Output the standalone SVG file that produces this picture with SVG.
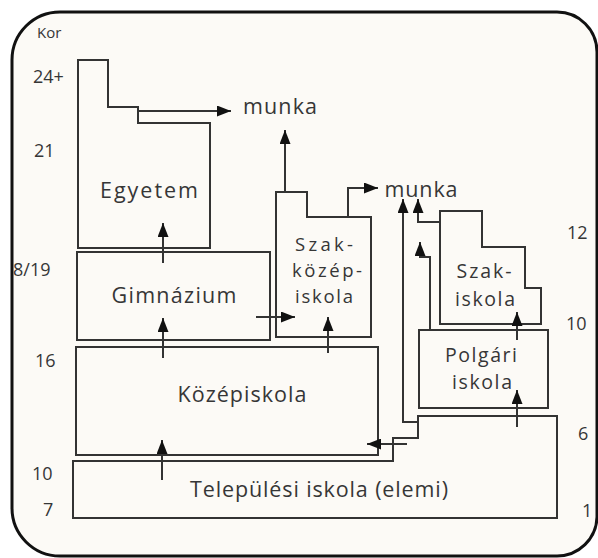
<svg xmlns="http://www.w3.org/2000/svg" width="598" height="558" viewBox="0 0 598 558">
<style>
.frame{fill:#fcfaf6;stroke:#111;stroke-width:3}
.box{fill:none;stroke:#333;stroke-width:2;stroke-linejoin:miter}
.con{fill:none;stroke:#333;stroke-width:2;marker-end:url(#ah)}
text{font-family:"Open Sans","Noto Sans","DejaVu Sans",sans-serif;fill:#363636}
.lbl{font-size:21.5px;text-anchor:middle}
.ml{font-size:19.5px;text-anchor:middle}
.sk{font-size:18.5px;text-anchor:middle}
.age{font-size:18px}
</style>
<defs>
<marker id="ah" markerWidth="14" markerHeight="11" refX="14" refY="5.5" orient="auto" markerUnits="userSpaceOnUse">
<path d="M0,0 L14,5.5 L0,11 Z" fill="#111"/>
</marker>
</defs>
<rect width="598" height="558" fill="#ffffff"/>
<path class="frame" d="M12,60 A48,48 0 0 1 60,12 L557,12 A40,40 0 0 1 597,52 L597,517 A40,40 0 0 1 557,556 L60,556 A48,48 0 0 1 12,508 Z"/>

<g id="axis-left">
<text x="37" y="38" style="font-size:15px">Kor</text>
<text class="age" x="33" y="83">24+</text>
<text class="age" x="34" y="157">21</text>
<text class="age" x="13" y="276">8/19</text>
<text class="age" x="35" y="367">16</text>
<text class="age" x="32" y="480">10</text>
<text class="age" x="43" y="516">7</text>
</g>
<g id="axis-right">
<text class="age" x="567" y="239">12</text>
<text class="age" x="566" y="330">10</text>
<text class="age" x="578" y="440">6</text>
<text class="age" x="582" y="517">1</text>
</g>

<g id="egyetem">
<path class="box" d="M78,60 H108 V107 H138 V123 H210 V248 H78 Z"/>
<text class="lbl" x="149" y="198" textLength="98">Egyetem</text>
</g>
<g id="gimnazium">
<rect class="box" x="77" y="252" width="193" height="88"/>
<text class="lbl" x="174" y="303" textLength="125">Gimnázium</text>
</g>
<g id="kozepiskola">
<rect class="box" x="76" y="347" width="302" height="108"/>
<text class="lbl" x="242" y="402" textLength="129">Középiskola</text>
</g>
<g id="telepulesi">
<path class="box" d="M73,461 H393 V438 H418 V416 H557 V518 H73 Z"/>
<text class="lbl" x="319" y="497" textLength="258">Települési iskola (elemi)</text>
</g>
<g id="szakkozep">
<path class="box" d="M276,192 H307 V217 H371 V337 H276 Z"/>
<text class="sk" x="324" y="251" textLength="58">Szak-</text>
<text class="sk" x="327" y="277" textLength="70">közép-</text>
<text class="sk" x="324" y="303" textLength="58">iskola</text>
</g>
<g id="szakiskola">
<path class="box" d="M440,211 H482 V247 H525 V288 H541 V324 H440 Z"/>
<text class="ml" x="484" y="278" textLength="55">Szak-</text>
<text class="ml" x="485" y="306" textLength="60">iskola</text>
</g>
<g id="polgari">
<rect class="box" x="419" y="330" width="129" height="78"/>
<text class="ml" x="481" y="362" textLength="72">Polgári</text>
<text class="ml" x="482" y="389" textLength="60">iskola</text>
</g>
<g id="munka1">
<text class="lbl" x="280" y="114" textLength="74">munka</text>
</g>
<g id="munka2">
<text class="lbl" x="421" y="197" textLength="73">munka</text>
</g>

<g id="connectors">
<path class="con" d="M138,111 H231"/>
<path class="con" d="M285,192 V130"/>
<path class="con" d="M348,217 V188 H378"/>
<path class="con" d="M418,422 H403 V199"/>
<path class="con" d="M440,222 H418 V199"/>
<path class="con" d="M430,330 V257 H420 V242"/>
<path class="con" d="M407,444 H367"/>
<path class="con" d="M256,317 H295"/>
<path class="con" d="M328,353 V317"/>
<path class="con" d="M163,263 V223"/>
<path class="con" d="M163,358 V318"/>
<path class="con" d="M162,480 V440"/>
<path class="con" d="M517,340 V312"/>
<path class="con" d="M517,427 V390"/>
</g>
</svg>
